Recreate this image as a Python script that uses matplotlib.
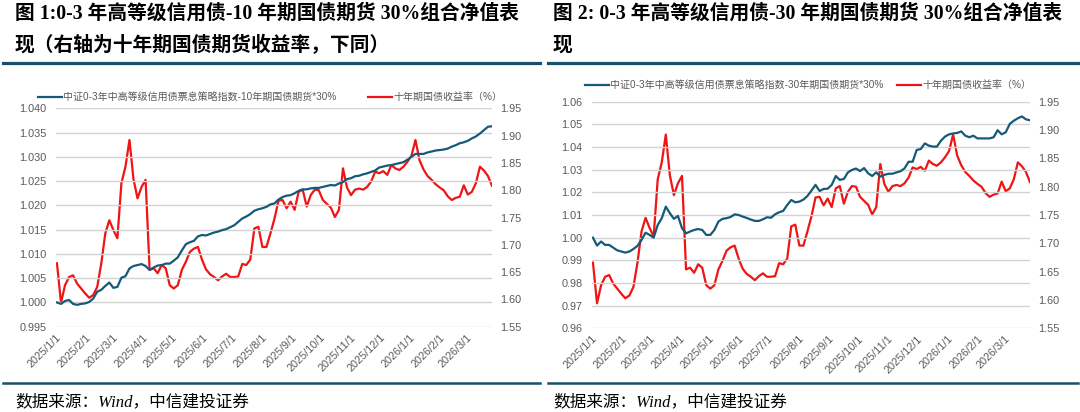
import matplotlib
matplotlib.use("Agg")
import matplotlib.pyplot as plt
from matplotlib.lines import Line2D
from matplotlib.font_manager import FontProperties
import pandas as pd

# 十年期国债收益率 (%), shared by both panels
yield_10y = [1.666, 1.594, 1.626, 1.641, 1.644, 1.629, 1.620, 1.611, 1.603, 1.608,
             1.623, 1.666, 1.721, 1.745, 1.727, 1.712, 1.813, 1.843, 1.892, 1.820,
             1.785, 1.806, 1.819, 1.654, 1.657, 1.648, 1.663, 1.657, 1.626, 1.620,
             1.626, 1.654, 1.669, 1.687, 1.693, 1.696, 1.673, 1.655, 1.646, 1.641,
             1.635, 1.642, 1.647, 1.641, 1.641, 1.642, 1.665, 1.663, 1.673, 1.730,
             1.733, 1.696, 1.696, 1.721, 1.748, 1.781, 1.782, 1.767, 1.779, 1.764,
             1.797, 1.801, 1.770, 1.791, 1.801, 1.800, 1.782, 1.775, 1.768, 1.751,
             1.764, 1.840, 1.805, 1.791, 1.801, 1.803, 1.801, 1.806, 1.816, 1.834,
             1.831, 1.835, 1.828, 1.846, 1.840, 1.837, 1.843, 1.852, 1.863, 1.892,
             1.855, 1.838, 1.826, 1.819, 1.811, 1.805, 1.800, 1.789, 1.782, 1.786,
             1.788, 1.809, 1.792, 1.797, 1.813, 1.843, 1.836, 1.826, 1.808]

# 净值: 信用债 + 10年期国债期货*30%
nav_t10 = [1.0000, 0.9997, 1.0003, 1.0005, 0.9997, 0.9995, 0.9997, 0.9998, 1.0001, 1.0008,
           1.0022, 1.0026, 1.0034, 1.0041, 1.0030, 1.0032, 1.0051, 1.0054, 1.0070, 1.0075,
           1.0077, 1.0079, 1.0075, 1.0067, 1.0072, 1.0076, 1.0077, 1.0080, 1.0080, 1.0086,
           1.0093, 1.0107, 1.0120, 1.0124, 1.0127, 1.0136, 1.0139, 1.0138, 1.0141, 1.0144,
           1.0146, 1.0149, 1.0151, 1.0155, 1.0159, 1.0166, 1.0173, 1.0177, 1.0182, 1.0189,
           1.0192, 1.0194, 1.0197, 1.0202, 1.0204, 1.0212, 1.0217, 1.0220, 1.0221, 1.0225,
           1.0230, 1.0233, 1.0233, 1.0235, 1.0236, 1.0236, 1.0238, 1.0240, 1.0242, 1.0241,
           1.0245, 1.0248, 1.0254, 1.0256, 1.0260, 1.0261, 1.0264, 1.0266, 1.0269, 1.0272,
           1.0278, 1.0280, 1.0282, 1.0283, 1.0285, 1.0287, 1.0289, 1.0294, 1.0300, 1.0306,
           1.0306, 1.0306, 1.0309, 1.0311, 1.0313, 1.0314, 1.0315, 1.0317, 1.0321, 1.0324,
           1.0328, 1.0330, 1.0333, 1.0338, 1.0342, 1.0348, 1.0355, 1.0362, 1.0363]

# 净值: 信用债 + 30年期国债期货*30%
nav_t30 = [1.0000, 0.9965, 0.9983, 0.9968, 0.9968, 0.9956, 0.9944, 0.9939, 0.9934, 0.9939,
           0.9950, 0.9964, 0.9990, 1.0022, 1.0012, 1.0000, 1.0056, 1.0086, 1.0137, 1.0108,
           1.0083, 1.0096, 1.0042, 1.0019, 1.0027, 1.0034, 1.0038, 1.0034, 1.0012, 1.0012,
           1.0034, 1.0071, 1.0083, 1.0086, 1.0091, 1.0103, 1.0100, 1.0093, 1.0087, 1.0080,
           1.0074, 1.0074, 1.0081, 1.0090, 1.0088, 1.0103, 1.0112, 1.0118, 1.0144, 1.0166,
           1.0156, 1.0159, 1.0168, 1.0184, 1.0208, 1.0233, 1.0206, 1.0215, 1.0216, 1.0233,
           1.0272, 1.0255, 1.0259, 1.0288, 1.0299, 1.0305, 1.0294, 1.0307, 1.0284, 1.0272,
           1.0288, 1.0269, 1.0277, 1.0282, 1.0282, 1.0288, 1.0293, 1.0306, 1.0335, 1.0335,
           1.0387, 1.0391, 1.0416, 1.0406, 1.0402, 1.0402, 1.0428, 1.0446, 1.0456, 1.0460,
           1.0462, 1.0469, 1.0450, 1.0443, 1.0450, 1.0438, 1.0438, 1.0438, 1.0438, 1.0443,
           1.0474, 1.0456, 1.0465, 1.0502, 1.0516, 1.0527, 1.0535, 1.0522, 1.0518]

start_date, end_date = "2025-01-02", "2026-03-27"
month_ticks = pd.date_range("2025-01-01", "2026-03-01", freq="MS")

titles = [["图 1:0-3 年高等级信用债-10 年期国债期货 30%组合净值表",
           "现（右轴为十年期国债期货收益率，下同）"],
          ["图 2: 0-3 年高等级信用债-30 年期国债期货 30%组合净值表", "现"]]
legend_nav = ["中证0-3年中高等级信用债票息策略指数-10年期国债期货*30%",
              "中证0-3年中高等级信用债票息策略指数-30年期国债期货*30%"]
legend_yield = "十年期国债收益率（%）"
source = "数据来源：Wind，中信建投证券"

BLUE = "#155a78"
RED = "#f01414"
GREY = "#595959"
GRID = "#d3d3d3"
RULE = "#17506b"

W, H = 1080, 412
fig = plt.figure(figsize=(W / 100, H / 100), dpi=100)
fig.patch.set_facecolor("white")

tick_font = FontProperties(family=["Liberation Sans", "Noto Sans CJK SC"], size=7.8)
leg_font = FontProperties(family=["Liberation Sans", "Noto Sans CJK SC"], size=7.2)
title_font = FontProperties(family=["Liberation Serif", "Noto Sans CJK SC"], weight="bold", size=14.2)
src_font = FontProperties(family=["Liberation Serif", "Noto Sans CJK SC"], style="italic", size=12)


def box(x0, x1, ytop, ybot):
    return [x0 / W, 1 - ybot / H, (x1 - x0) / W, (ybot - ytop) / H]


panels = [
    dict(rect=box(56, 492, 108.3, 326.7), nav=nav_t10, ylim=(0.995, 1.040), step=0.005, fmt="{:.3f}",
         leg_xy=(270, 97), colsp=3.1),
    dict(rect=box(592, 1030, 101.7, 328.3), nav=nav_t30, ylim=(0.96, 1.06), step=0.01, fmt="{:.2f}",
         leg_xy=(808, 85), colsp=1.3),
]

for i, p in enumerate(panels):
    ax = fig.add_axes(p["rect"])
    axr = ax.twinx()
    dates_nav = pd.date_range(start_date, end_date, periods=len(p["nav"]))
    dates_y = pd.date_range(start_date, end_date, periods=len(yield_10y))

    l1, = ax.plot(dates_nav, p["nav"], color=BLUE, lw=1.6, zorder=3)
    l2, = axr.plot(dates_y, yield_10y, color=RED, lw=1.6, zorder=3)
    ax.set_zorder(axr.get_zorder() + 1)
    ax.patch.set_visible(False)

    lo, hi = p["ylim"]
    n = int(round((hi - lo) / p["step"]))
    yt = [lo + k * p["step"] for k in range(n + 1)]
    ax.set_ylim(lo, hi)
    ax.set_yticks(yt)
    ax.set_yticklabels([p["fmt"].format(v) for v in yt])
    ax.grid(axis="y", color=GRID, lw=1.0)
    ax.set_axisbelow(True)

    rt = [1.55 + k * 0.05 for k in range(9)]
    axr.set_ylim(1.55, 1.95)
    axr.set_yticks(rt)
    axr.set_yticklabels([f"{v:.2f}" for v in rt])

    ax.set_xlim(pd.Timestamp("2025-01-01"), pd.Timestamp(end_date))
    ax.set_xticks(month_ticks)
    ax.set_xticklabels([f"{d.year}/{d.month}/{d.day}" for d in month_ticks],
                       rotation=45, ha="right", rotation_mode="anchor")

    for a in (ax, axr):
        for s in a.spines.values():
            s.set_visible(False)
        a.tick_params(length=0, colors=GREY)
        for lab in a.get_xticklabels() + a.get_yticklabels():
            lab.set_fontproperties(tick_font)
    ax.tick_params(axis="y", pad=7)
    ax.tick_params(axis="x", pad=4)
    axr.tick_params(axis="y", pad=6)

    lx, ly = p["leg_xy"]
    fig.legend([l1, l2], [legend_nav[i], legend_yield], loc="center", ncol=2,
               bbox_to_anchor=(lx / W, 1 - ly / H), frameon=False, prop=leg_font,
               labelcolor=GREY, handlelength=2.4, handletextpad=0.15, columnspacing=p["colsp"])

# titles, rules and source notes
for x0, x1, tx, lines in [(3, 540, 15, titles[0]), (548, 1078, 553, titles[1])]:
    fig.text(tx / W, 1 - 14 / H, lines[0], fontproperties=title_font, va="center", ha="left")
    fig.text(tx / W, 1 - 46 / H, lines[1], fontproperties=title_font, va="center", ha="left")
    fig.add_artist(Line2D([x0 / W, x1 / W], [1 - 63 / H] * 2, color=RULE, lw=2.3,
                          transform=fig.transFigure))
    fig.add_artist(Line2D([x0 / W, x1 / W], [1 - 383 / H] * 2, color=RULE, lw=1.8,
                          transform=fig.transFigure))
    fig.text(tx / W, 1 - 402 / H, source, fontproperties=src_font, va="center", ha="left")

fig.savefig("out.png", dpi=100, facecolor="white")
